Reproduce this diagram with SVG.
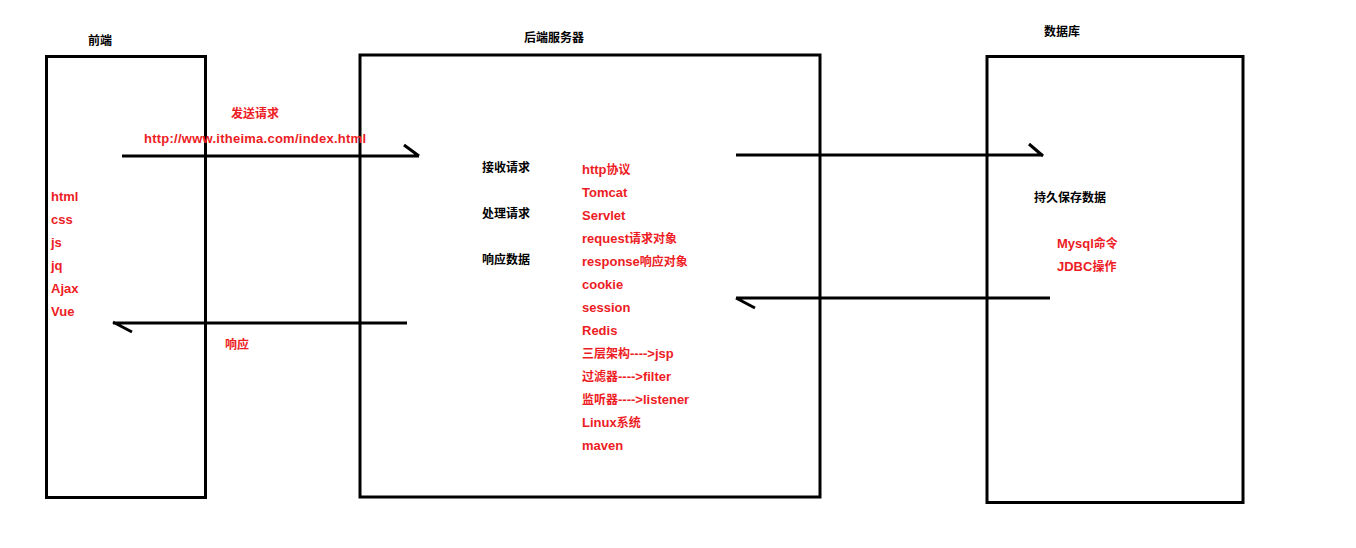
<svg xmlns="http://www.w3.org/2000/svg" width="1356" height="548" viewBox="0 0 1356 548">
<style>
.box{fill:none;stroke:#000;stroke-width:3}
.ln{fill:none;stroke:#000;stroke-width:3;stroke-linecap:butt}
text{font-family:"Liberation Sans","Noto Sans CJK SC",sans-serif;font-size:12px;font-weight:bold}
.k{fill:#000}
.r{fill:#ed1c24;font-size:13px}
.c{font-size:12px}
</style>
<rect width="1356" height="548" fill="#fff"/>
<g id="frontend">
<rect class="box" x="46.5" y="56.5" width="159" height="441"/>
<text class="k" x="88" y="45">前端</text>
<text class="r" x="51" y="201">html</text>
<text class="r" x="51" y="224">css</text>
<text class="r" x="51" y="247">js</text>
<text class="r" x="51" y="270">jq</text>
<text class="r" x="51" y="293">Ajax</text>
<text class="r" x="51" y="316">Vue</text>
</g>
<g id="server">
<rect class="box" x="360" y="55" width="460" height="442"/>
<text class="k" x="524" y="42">后端服务器</text>
<text class="k" x="482" y="172">接收请求</text>
<text class="k" x="482" y="218">处理请求</text>
<text class="k" x="482" y="264">响应数据</text>
<text class="r" x="582" y="174">http<tspan class="c">协议</tspan></text>
<text class="r" x="582" y="197">Tomcat</text>
<text class="r" x="582" y="220">Servlet</text>
<text class="r" x="582" y="243">request<tspan class="c">请求对象</tspan></text>
<text class="r" x="582" y="266">response<tspan class="c">响应对象</tspan></text>
<text class="r" x="582" y="289">cookie</text>
<text class="r" x="582" y="312">session</text>
<text class="r" x="582" y="335">Redis</text>
<text class="r" x="582" y="358"><tspan class="c">三层架构</tspan>----&gt;jsp</text>
<text class="r" x="582" y="381"><tspan class="c">过滤器</tspan>----&gt;filter</text>
<text class="r" x="582" y="404"><tspan class="c">监听器</tspan>----&gt;listener</text>
<text class="r" x="582" y="427">Linux<tspan class="c">系统</tspan></text>
<text class="r" x="582" y="450">maven</text>
</g>
<g id="database">
<rect class="box" x="987" y="56.5" width="256" height="446"/>
<text class="k" x="1044" y="36">数据库</text>
<text class="k" x="1034" y="202">持久保存数据</text>
<text class="r" x="1057" y="248">Mysql<tspan class="c">命令</tspan></text>
<text class="r" x="1057" y="271">JDBC<tspan class="c">操作</tspan></text>
</g>
<g id="connectors">
<path class="ln" d="M122 156H419M404 145L419 156"/>
<text class="r c" x="231" y="118">发送请求</text>
<text class="r" x="144" y="143" letter-spacing="0.25">http://www.itheima.com/index.html</text>
<path class="ln" d="M407 323H113M113 322L132 332"/>
<text class="r c" x="225" y="349">响应</text>
<path class="ln" d="M736 155H1043M1029 144L1043 156"/>
<path class="ln" d="M1050 298H736M736 298L755 308"/>
</g>
</svg>
